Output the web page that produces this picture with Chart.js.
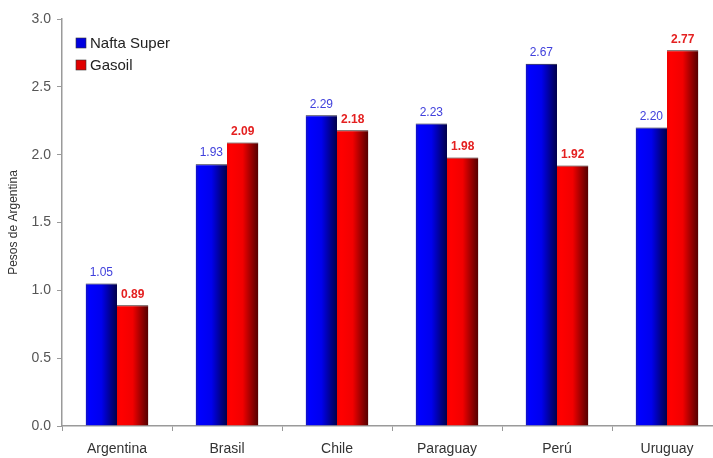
<!DOCTYPE html>
<html>
<head>
<meta charset="utf-8">
<script src="https://cdn.jsdelivr.net/npm/chart.js@4/dist/chart.umd.min.js"></script>
<style>
  html, body { margin: 0; padding: 0; background: #fff; overflow: hidden; }
  #wrap { width: 730px; height: 458px; }
</style>
</head>
<body>
<div id="wrap"><canvas id="c"></canvas></div>
<script>
  "use strict";

  // ---- data ----
  const countries = ["Argentina", "Brasil", "Chile", "Paraguay", "Perú", "Uruguay"];
  const naftaSuper = [1.05, 1.93, 2.29, 2.23, 2.67, 2.20];
  const gasoil = [0.89, 2.09, 2.18, 1.98, 1.92, 2.77];
  const yTicks = [0, 0.5, 1.0, 1.5, 2.0, 2.5, 3.0];

  const FONT = "'Liberation Sans', Arial, sans-serif";
  const CAT_PCT = 0.57;

  // shaded bar: horizontal gradient across each bar
  const SHADES = {
    blue: ["#1414c0", "#0000ff", "#0000ee", "#00004a"],
    red: ["#ee0000", "#ff0000", "#f20000", "#520000"],
  };
  function barFill(shade) {
    return (ctx) => {
      const chart = ctx.chart;
      const xs = chart.scales.x;
      if (!xs || ctx.dataIndex == null) return shade[1];
      const center = xs.getPixelForValue(ctx.dataIndex);
      const catW = xs.width / countries.length;
      const bw = catW * CAT_PCT / 2;
      const left = ctx.datasetIndex === 0 ? center - bw : center;
      if (!isFinite(left) || !isFinite(bw) || bw <= 0) return shade[1];
      const g = chart.ctx.createLinearGradient(left, 0, left + bw, 0);
      g.addColorStop(0, shade[0]);
      g.addColorStop(0.12, shade[1]);
      g.addColorStop(0.5, shade[2]);
      g.addColorStop(1, shade[3]);
      return g;
    };
  }

  // value labels above bars
  const valueLabels = {
    id: "valueLabels",
    afterDatasetsDraw(chart) {
      const { ctx } = chart;
      ctx.save();
      ctx.textAlign = "center";
      ctx.textBaseline = "bottom";
      chart.data.datasets.forEach((ds, di) => {
        const meta = chart.getDatasetMeta(di);
        ctx.font = (di === 1 ? "bold " : "") + "12px " + FONT;
        ctx.fillStyle = di === 1 ? "#e42020" : "#4040dc";
        meta.data.forEach((bar, i) => {
          ctx.fillText(ds.data[i].toFixed(2), bar.x, bar.y - 5);
        });
      });
      ctx.restore();
    },
  };

  // legend boxed inside the plot, top-left
  const innerLegend = {
    id: "innerLegend",
    afterDraw(chart) {
      const { ctx } = chart;
      const swatch = ["#0000e0", "#e00000"];
      ctx.save();
      ctx.font = "15px " + FONT;
      ctx.textBaseline = "middle";
      chart.data.datasets.forEach((ds, i) => {
        const y = 43 + i * 22;
        ctx.fillStyle = swatch[i];
        ctx.fillRect(76, y - 5, 10, 10);
        ctx.strokeStyle = "#333";
        ctx.lineWidth = 0.6;
        ctx.strokeRect(76, y - 5, 10, 10);
        ctx.fillStyle = "#222";
        ctx.fillText(ds.label, 90, y + 1);
      });
      ctx.restore();
    },
  };

  const axisColor = "#9a9a9a";

  new Chart(document.getElementById("c"), {
    type: "bar",
    data: {
      labels: countries,
      datasets: [
        { label: "Nafta Super", data: naftaSuper, backgroundColor: barFill(SHADES.blue),
          borderColor: "#101030", borderWidth: { top: 1 }, borderSkipped: false },
        { label: "Gasoil", data: gasoil, backgroundColor: barFill(SHADES.red),
          borderColor: "#301010", borderWidth: { top: 1 }, borderSkipped: false },
      ],
    },
    options: {
      responsive: true,
      maintainAspectRatio: false,
      animation: false,
      layout: { padding: { top: 19, right: 8, left: 0, bottom: 0 } },
      datasets: { bar: { categoryPercentage: CAT_PCT, barPercentage: 1 } },
      plugins: { legend: { display: false }, tooltip: { enabled: false } },
      scales: {
        x: {
          offset: true,
          grid: { display: true, offset: true, drawOnChartArea: false, drawTicks: true, tickLength: 5, color: axisColor },
          border: { display: true, color: axisColor, width: 1.5 },
          ticks: { color: "#333", font: { family: FONT, size: 14 }, padding: 10, maxRotation: 0 },
          afterFit: (s) => { s.height = 32; },
        },
        y: {
          min: 0,
          max: 3,
          afterBuildTicks: (s) => { s.ticks = yTicks.map((v) => ({ value: v })); },
          grid: { display: true, drawOnChartArea: false, drawTicks: true, tickLength: 5, color: axisColor },
          border: { display: true, color: axisColor, width: 1.5 },
          ticks: { color: "#555", font: { family: FONT, size: 14 }, padding: 6, callback: (v) => v.toFixed(1) },
          title: { display: true, text: "Pesos de Argentina", color: "#333", font: { family: FONT, size: 12 }, padding: { top: 6, bottom: 4 } },
          afterFit: (s) => { s.width = 62; },
        },
      },
    },
    plugins: [valueLabels, innerLegend],
  });
</script>
</body>
</html>
